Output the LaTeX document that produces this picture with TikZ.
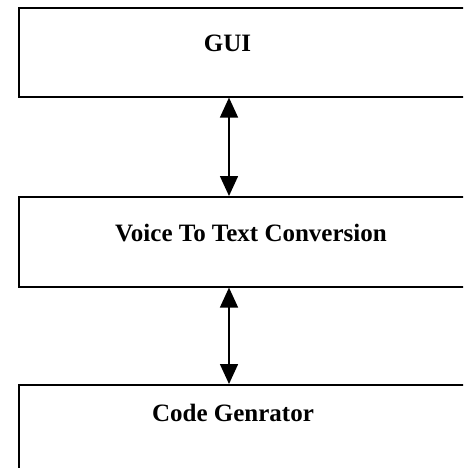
\documentclass[tikz,border=0pt]{standalone}
\usepackage{fontspec}
\setmainfont{Liberation Serif}
\usetikzlibrary{arrows.meta}
\begin{document}
\begin{tikzpicture}[x=1pt, y=-1pt,
    box/.style={draw, line width=1.6pt, anchor=north west, inner sep=0pt, minimum width=480pt},
    lbl/.style={font=\fontsize{25}{29}\selectfont\bfseries, anchor=base},
    link/.style={line width=1.6pt, {Triangle[width=18pt,length=20pt]}-{Triangle[width=18pt,length=20pt]}}]
    \useasboundingbox (0,0) rectangle (463,468);
    \clip (0,0) rectangle (463,468);
    % the three blocks, running off the right and bottom edge
    \node[box, minimum height=89pt] (gui) at (18,7) {};
    \node[box, minimum height=90pt] (voice) at (18,196) {};
    \node[box, minimum height=120pt] (code) at (18,384) {};
    \node[lbl] (guitxt) at (227.5,52) {GUI};
    \node[lbl] (voicetxt) at (251,241.5) {Voice To Text Conversion};
    \node[lbl] (codetxt) at (233,421.5) {Code Genrator};
    \coordinate (ax) at (229,0);
    \draw[link] (gui.south -| ax) -- (voice.north -| ax);
    \draw[link] (voice.south -| ax) -- (code.north -| ax);
\end{tikzpicture}
\end{document}
